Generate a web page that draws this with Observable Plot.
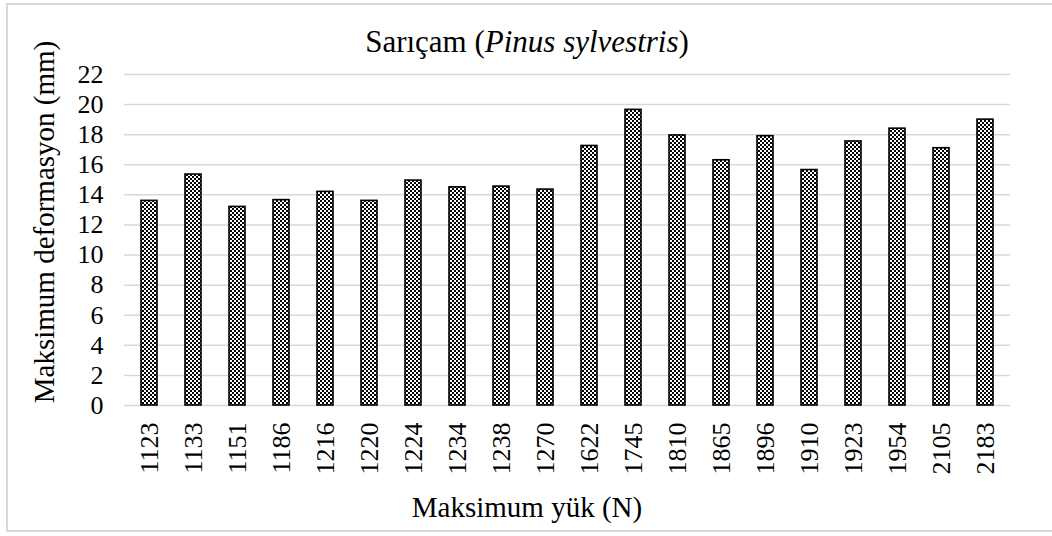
<!DOCTYPE html>
<html>
<head>
<meta charset="utf-8">
<script src="https://cdn.jsdelivr.net/npm/d3@7"></script>
<script src="https://cdn.jsdelivr.net/npm/@observablehq/plot@0.6"></script>
<style>
  html, body { margin: 0; padding: 0; background: #fff; overflow: hidden; }
  #wrap { position: relative; width: 1052px; height: 536px; font-family: "Liberation Serif", Tinos, "Times New Roman", serif; color: #000; }
  #border { position: absolute; left: 6px; top: 3px; width: 1100px; height: 529px; border: 2px solid #d9d9d9; box-sizing: border-box; }
  #chart { position: absolute; left: 0; top: 0; }
  .t { position: absolute; font-size: 29px; line-height: 1; white-space: nowrap; }
  #title { left: 0; width: 1054px; text-align: center; top: 26px; font-size: 31px; }
  #xlabel { left: 0; width: 1054px; text-align: center; top: 493px; }
  #ylabel { left: 44px; top: 222px; transform: translate(-50%, -50%) rotate(-90deg); }
</style>
</head>
<body>
<div id="wrap">
  <div id="border"></div>
  <div id="chart"></div>
  <div class="t" id="title">Sarıçam (<i>Pinus sylvestris</i>)</div>
  <div class="t" id="ylabel">Maksimum deformasyon (mm)</div>
  <div class="t" id="xlabel">Maksimum yük (N)</div>
</div>
<script>
const loads = ["1123","1133","1151","1186","1216","1220","1224","1234","1238","1270",
               "1622","1745","1810","1865","1896","1910","1923","1954","2105","2183"];
const deformation = [13.6, 15.35, 13.2, 13.65, 14.2, 13.6, 14.95, 14.5, 14.55, 14.35,
                     17.25, 19.65, 17.95, 16.3, 17.9, 15.65, 17.55, 18.4, 17.1, 19.0];
const yTicks = [0, 2, 4, 6, 8, 10, 12, 14, 16, 18, 20, 22];

const data = loads.map((load, i) => ({load, def: deformation[i]}));

const serif = "'Liberation Serif', Tinos, 'Times New Roman', serif";

const svg = Plot.plot({
  width: 1052,
  height: 536,
  marginTop: 74,
  marginBottom: 131,
  marginLeft: 124,
  marginRight: 42,
  style: {fontFamily: serif, fontSize: "26px", color: "#000", background: "transparent", overflow: "visible"},
  x: {domain: loads, paddingInner: 0.64, paddingOuter: 0.32, label: null},
  y: {domain: [0, 22], label: null},
  marks: [
    Plot.gridY(yTicks, {stroke: "#d9d9d9", strokeOpacity: 1, strokeWidth: 1.5}),
    Plot.axisY(yTicks, {tickSize: 0, tickPadding: 21, label: null, fontSize: 26}),
    Plot.axisX({tickSize: 0, tickRotate: -90, tickPadding: 17, label: null, fontSize: 26}),
    Plot.barY(data, {x: "load", y: "def", fill: "url(#checker)", stroke: "#000", strokeWidth: 1.6})
  ]
});

const defs = d3.select(svg).insert("defs", ":first-child");
const pat = defs.append("pattern")
  .attr("id", "checker")
  .attr("patternUnits", "userSpaceOnUse")
  .attr("width", 4).attr("height", 4);
pat.append("rect").attr("width", 4).attr("height", 4).attr("fill", "#fff");
pat.append("rect").attr("width", 2).attr("height", 2).attr("fill", "#000");
pat.append("rect").attr("x", 2).attr("y", 2).attr("width", 2).attr("height", 2).attr("fill", "#000");

document.getElementById("chart").appendChild(svg);
</script>
</body>
</html>
